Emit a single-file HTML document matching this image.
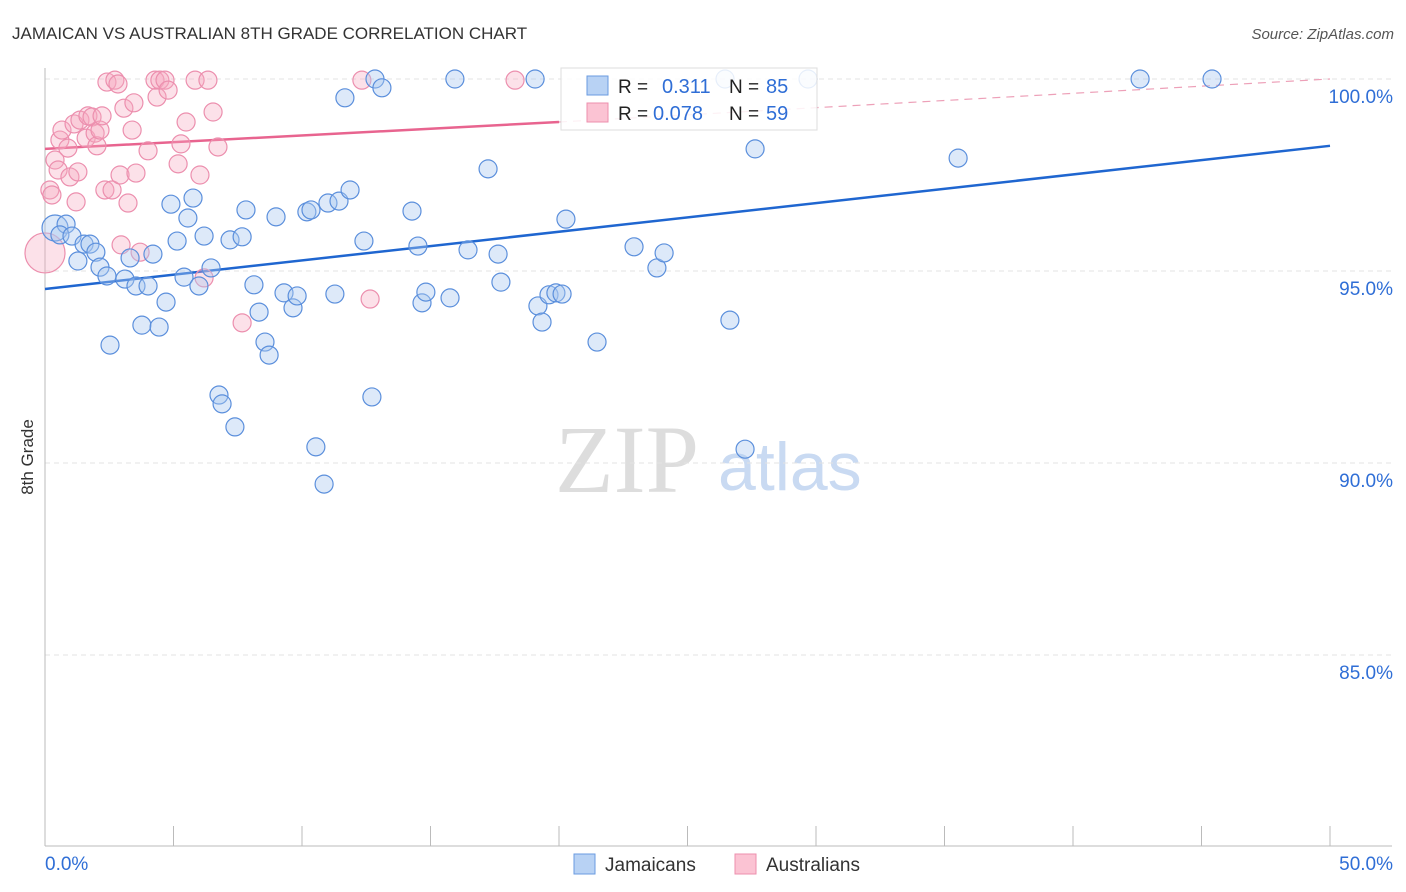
<!DOCTYPE html>
<html><head><meta charset="utf-8"><style>
body{margin:0;background:#fff;font-family:"Liberation Sans",sans-serif}
#wrap{position:relative;width:1406px;height:892px;overflow:hidden}
</style></head><body>
<div id="wrap">
<svg id="svg" width="1406" height="892" xmlns="http://www.w3.org/2000/svg">
<text x="12" y="39" font-size="17" fill="#333">JAMAICAN VS AUSTRALIAN 8TH GRADE CORRELATION CHART</text>
<text x="1394" y="39" font-size="15" fill="#555" text-anchor="end" font-style="italic">Source: ZipAtlas.com</text>
<text x="33" y="457" font-size="17" fill="#333" transform="rotate(-90 33 457)" text-anchor="middle">8th Grade</text>
<text x="555" y="492" font-size="96" fill="#ddd" font-family="Liberation Serif,serif">ZIP</text>
<text x="718" y="490" font-size="68" fill="#c9daf2">atlas</text>
<g id="grid"></g><g id="axes"></g><g id="lines"></g><g id="pts"></g>
<g>
<rect x="561" y="68" width="256" height="62" fill="#fff" fill-opacity="0.85" stroke="#ddd"/>
<rect x="587" y="76" width="21" height="19" fill="#b8d2f4" stroke="#6a9be0"/>
<rect x="587" y="103" width="21" height="19" fill="#fbc3d3" stroke="#ec8fae"/>
<text x="618" y="93" font-size="19" fill="#222">R =</text><text x="662" y="93" font-size="20" fill="#2f6ed6">0.311</text>
<text x="729" y="93" font-size="19" fill="#222">N =</text><text x="766" y="93" font-size="20" fill="#2f6ed6">85</text>
<text x="618" y="120" font-size="19" fill="#222">R =</text><text x="653" y="120" font-size="20" fill="#2f6ed6">0.078</text>
<text x="729" y="120" font-size="19" fill="#222">N =</text><text x="766" y="120" font-size="20" fill="#2f6ed6">59</text>
</g>
<g>
<rect x="574" y="854" width="21" height="20" fill="#b8d2f4" stroke="#6a9be0"/>
<text x="605" y="871" font-size="19" fill="#333">Jamaicans</text>
<rect x="735" y="854" width="21" height="20" fill="#fbc3d3" stroke="#ec8fae"/>
<text x="766" y="871" font-size="19" fill="#333">Australians</text>
</g>
</svg>
</div>
<script>
const yTicks=[100,95,90,85];
const xTickLabels=["0.0%","50.0%"];
const blueX=[0.39,0.82,0.58,1.05,1.52,1.75,1.98,1.28,2.14,2.41,2.53,3.11,3.31,3.54,3.77,4.01,4.20,4.44,4.71,4.90,5.14,5.41,5.56,5.76,5.99,6.19,6.46,6.77,6.89,7.20,7.39,7.67,7.82,8.13,8.33,8.56,8.72,8.99,9.30,9.65,9.81,10.19,10.35,10.54,10.86,11.01,11.28,11.44,11.67,11.87,12.41,12.72,12.84,13.11,14.28,14.51,14.67,14.82,15.76,15.95,16.46,17.24,17.63,17.74,19.07,19.18,19.34,19.61,19.88,20.12,20.27,21.48,22.92,23.81,24.09,26.65,27.24,26.46,27.63,29.69,35.53,42.61,45.41];
const blueY=[96.12,96.22,95.94,95.91,95.70,95.70,95.49,95.26,95.10,94.87,93.07,94.79,95.34,94.61,93.59,94.61,95.44,93.54,94.19,96.74,95.78,94.84,96.38,96.90,94.61,95.91,95.08,91.77,91.54,95.81,90.94,95.89,96.59,94.64,93.93,93.15,92.81,96.41,94.43,94.04,94.35,96.54,96.59,90.42,89.45,96.77,94.40,96.82,99.51,97.11,95.78,91.72,100,99.77,96.56,95.65,94.17,94.45,94.30,100,95.55,97.66,95.44,94.71,100,94.09,93.67,94.38,94.43,94.40,96.35,93.15,95.63,95.08,95.47,93.72,90.36,100,98.18,100,97.94,100,100];
const pinkX=[0,0.19,0.27,0.39,0.51,0.58,0.66,0.89,0.97,1.13,1.21,1.28,1.36,1.60,1.67,1.83,1.95,2.02,2.14,2.22,2.33,2.41,2.61,2.72,2.84,2.92,2.96,3.07,3.23,3.39,3.46,3.54,3.70,4.01,4.28,4.36,4.47,4.67,4.79,5.18,5.29,5.49,5.84,6.03,6.19,6.34,6.54,6.73,7.67,12.33,12.65,18.29];
const pinkY=[95.47,97.11,96.98,97.89,97.63,98.41,98.67,98.20,97.45,98.83,96.80,97.58,98.93,98.46,99.04,99.01,98.59,98.26,98.67,99.04,97.11,99.92,97.11,99.97,99.87,97.50,95.68,99.24,96.77,98.67,99.38,97.55,95.49,98.13,99.97,99.53,99.97,99.97,99.71,97.79,98.31,98.88,99.97,97.50,94.82,99.97,99.14,98.23,93.65,99.97,94.27,99.97];
const blueLine=[[0,94.53],[50,98.26]];
const pinkLine=[[0,98.18],[20,98.88]];
const pinkDash=[[20,98.88],[50,100.0]];
const NS="http://www.w3.org/2000/svg";
const X=v=>45+v/50*1285, Y=v=>79+(100-v)*38.4;
function mk(tag,attrs,parent){const e=document.createElementNS(NS,tag);for(const k in attrs)e.setAttribute(k,attrs[k]);document.getElementById(parent).appendChild(e);return e;}
yTicks.forEach(t=>{
 const g=mk('line',{x1:45,x2:1392,y1:Y(t),y2:Y(t),stroke:'#e3e3e3','stroke-dasharray':'5,4'},'grid');
 
 
 const l=mk('text',{x:1393,y:Y(t)+24,'font-size':19,fill:'#2f6ed6','text-anchor':'end'},'axes');
 l.textContent=t.toFixed(1)+'%';
 
 
});
mk('line',{x1:45,x2:45,y1:68,y2:846,stroke:'#bbb'},'axes');
mk('line',{x1:45,x2:1392,y1:846,y2:846,stroke:'#bbb'},'axes');
for(let i=0;i<=10;i++){const xx=X(i*5);mk('line',{x1:xx,x2:xx,y1:826,y2:846,stroke:'#bbb'},'axes');}
xTickLabels.forEach((s,i)=>{const t=mk('text',{x:i?1393:45,y:870,'font-size':19,fill:'#2f6ed6','text-anchor':i?'end':'start'},'axes');t.textContent=s;
 
 });
function ln(p,c,w,dash,name){const e=mk('line',{x1:X(p[0][0]),y1:Y(p[0][1]),x2:X(p[1][0]),y2:Y(p[1][1]),stroke:c,'stroke-width':w},'lines');if(dash)e.setAttribute('stroke-dasharray',dash);
 
 }
pinkX.forEach((x,i)=>{const c=mk('circle',{cx:X(x),cy:Y(pinkY[i]),r:i==0?20:9,fill:'#f7a8c0','fill-opacity':0.35,stroke:'#ec8fae','stroke-width':1.2},'pts');
 
 });
blueX.forEach((x,i)=>{const c=mk('circle',{cx:X(x),cy:Y(blueY[i]),r:i==0?13:9,fill:'#a9c8f0','fill-opacity':0.4,stroke:'#5b8fdc','stroke-width':1.2},'pts');
 
 });
ln(blueLine,'#1f66d0',2.5,null,'jamaican-trend-line');
ln(pinkLine,'#e8648f',2.5,null,'australian-trend-line');
ln(pinkDash,'#eda0b8',1.2,'8,6','australian-trend-extension');
</script>
</body></html>
